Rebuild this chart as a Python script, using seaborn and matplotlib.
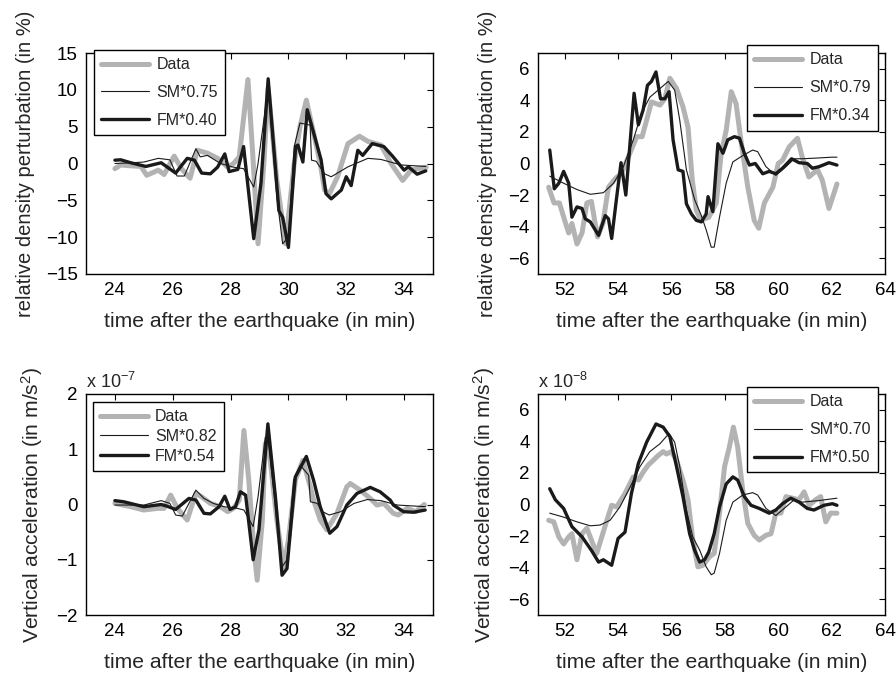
import numpy as np
import pandas as pd
import matplotlib
matplotlib.use("Agg")
import matplotlib.pyplot as plt
import seaborn as sns

# ---------------- data ----------------
# Top-left: relative density perturbation (%), 24-35 min
tl_data_t = [24.0, 24.2, 24.5, 24.9, 25.1, 25.5, 25.7, 26.05, 26.3, 26.6, 26.85, 27.2, 27.55, 27.9, 28.1, 28.3,
             28.6, 28.75, 28.95, 29.15, 29.3, 29.6, 29.9, 30.2, 30.4, 30.62, 30.85, 31.1, 31.25, 31.42, 31.7,
             32.06, 32.46, 32.75, 33.2, 33.55, 33.95, 34.24, 34.47, 34.76]
tl_data_v = [-0.7, -0.2, -0.3, -0.4, -1.6, -0.9, -1.5, 1.0, -0.7, -2.0, 1.8, 1.4, 0.7, -0.5, 0.0, 0.9,
             11.4, 2.3, -10.9, 0.0, 10.2, -2.3, -10.9, 0.0, 5.0, 8.6, 4.5, 0.0, -3.6, -4.1, -1.8,
             2.7, 3.7, 3.0, 2.5, 0.0, -2.3, -0.9, -0.7, -0.5]
tl_sm_t = [24.0, 24.6, 25.0, 25.5, 25.9, 26.15, 26.4, 26.8, 26.95, 27.2, 27.65, 28.1, 28.45, 28.8, 28.95,
           29.15, 29.3, 29.6, 29.8, 30.0, 30.2, 30.4, 30.75, 30.8, 30.96, 31.25, 31.48, 32.06, 32.75, 33.2,
           33.9, 34.75]
tl_sm_v = [0.0, 0.1, 0.2, 0.7, 0.5, -1.7, -1.7, 2.0, 0.9, 1.1, 0.0, -0.5, -0.7, -3.2, 0.0,
           5.9, 10.5, -4.5, -10.9, -10.0, 2.3, 5.5, 5.2, 0.45, 0.3, -1.4, -1.8, -0.45, 0.7, 0.55,
           -0.2, -0.4]
tl_fm_t = [24.0, 24.2, 24.55, 25.07, 25.6, 26.1, 26.5, 26.75, 27.0, 27.3, 27.55, 27.8, 27.95, 28.25, 28.45,
           28.8, 29.05, 29.3, 29.67, 29.8, 30.0, 30.25, 30.33, 30.5, 30.65, 31.13, 31.3, 31.48, 31.83, 32.0,
           32.17, 32.4, 32.57, 32.9, 33.3, 33.6, 34.0, 34.15, 34.45, 34.75]
tl_fm_v = [0.45, 0.5, 0.1, -0.4, 0.1, -1.3, 0.7, 0.45, -1.3, -1.4, -0.5, 1.3, -1.1, -0.8, 2.3,
           -10.2, -2.7, 11.5, -6.4, -7.3, -11.4, 2.3, 2.5, 0.2, 7.3, 0.5, -4.1, -4.8, -3.6, -1.8,
           -3.0, 1.8, 1.1, 2.7, 2.3, 1.0, -0.9, -0.45, -1.45, -1.0]

# Top-right: relative density perturbation (%), 51-64 min
tr_data_t = [51.4, 51.6, 51.8, 52.0, 52.15, 52.27, 52.46, 52.65, 52.83, 53.0, 53.23, 53.43, 53.64, 53.9, 54.14,
             54.38, 54.7, 54.9, 55.07, 55.25, 55.57, 55.75, 55.94, 56.19, 56.43, 56.62, 56.78, 56.93, 57.1,
             57.4, 57.68, 57.86, 58.05, 58.24, 58.42, 58.6, 58.86, 59.1, 59.27, 59.48, 59.8, 60.0, 60.16,
             60.41, 60.72, 60.9, 61.15, 61.47, 61.65, 61.9, 62.2]
tr_data_v = [-1.5, -2.5, -2.5, -3.6, -4.4, -3.8, -5.1, -4.4, -2.5, -2.4, -4.65, -3.8, -1.5, -0.95, -0.6,
             0.4, 1.7, 1.7, 2.75, 3.9, 3.7, 4.1, 5.4, 4.75, 3.6, 2.3, -1.05, -2.95, -3.6,
             -3.4, -2.5, 0.6, 2.1, 4.55, 3.8, 1.5, -1.5, -3.6, -4.1, -2.5, -1.5, 0.0, 0.2,
             1.05, 1.6, 0.4, -0.85, -0.4, -1.05, -2.85, -1.3]
tr_sm_t = [51.44, 51.96, 52.46, 52.96, 53.45, 53.83, 54.2, 54.57, 54.88, 55.19, 55.57, 55.88, 56.12, 56.31,
           56.56, 56.87, 57.12, 57.3, 57.49, 57.6, 57.8, 58.05, 58.3, 58.67, 59.04, 59.23, 59.54, 59.91,
           60.29, 60.6, 60.9, 61.5, 62.0, 62.2]
tr_sm_v = [-0.8, -1.25, -1.65, -1.95, -1.85, -1.25, -0.2, 1.5, 3.2, 4.2, 4.75, 5.2, 4.65, 2.75,
           -0.4, -2.3, -3.3, -4.2, -5.3, -5.3, -3.4, -1.25, 0.1, 0.5, 0.85, 0.75, -0.2, -0.75,
           -0.2, 0.3, 0.3, 0.35, 0.4, 0.4]
tr_fm_t = [51.44, 51.61, 51.78, 51.96, 52.15, 52.27, 52.46, 52.65, 52.77, 52.96, 53.27, 53.52, 53.64, 53.76,
           53.95, 54.11, 54.29, 54.6, 54.76, 54.94, 55.1, 55.25, 55.42, 55.59, 55.75, 55.91, 56.06, 56.25,
           56.43, 56.56, 56.75, 56.93, 57.12, 57.3, 57.37, 57.55, 57.74, 57.93, 58.11, 58.36, 58.55, 58.73,
           58.92, 59.14, 59.42, 59.66, 59.91, 60.16, 60.5, 60.78, 61.09, 61.28, 61.53, 61.9, 62.2]
tr_fm_v = [0.85, -1.6, -1.25, -0.5, -1.25, -3.4, -2.75, -2.85, -3.5, -3.7, -4.55, -3.3, -3.5, -4.75,
           -2.1, 0.05, -2.0, 4.45, 2.45, 3.4, 4.95, 5.2, 5.8, 4.1, 4.1, 4.55, 1.5, -0.4,
           -0.5, -2.55, -3.2, -3.6, -3.7, -3.2, -2.1, -3.05, 1.25, 0.65, 1.5, 1.7, 1.6, 0.65,
           -0.1, 0.0, -0.65, -0.5, -0.65, -0.3, 0.3, 0.05, 0.0, -0.3, -0.2, 0.05, -0.1]

# Bottom-left: vertical acceleration (x 1e-7 m/s^2), 24-35 min
bl_data_t = [24.0, 24.55, 25.0, 25.47, 25.7, 25.93, 26.16, 26.5, 26.8, 27.0, 27.3, 27.65, 27.9, 28.1, 28.3,
             28.46, 28.63, 28.8, 28.92, 29.1, 29.2, 29.32, 29.6, 29.84, 30.0, 30.24, 30.5, 30.76, 30.87,
             31.1, 31.33, 31.68, 32.02, 32.14, 32.48, 32.83, 33.06, 33.3, 33.63, 33.8, 34.1, 34.4, 34.7]
bl_data_v = [0.02, -0.04, -0.1, -0.07, -0.07, 0.17, -0.07, -0.28, 0.2, 0.14, 0.02, -0.04, -0.13, -0.07, 0.08,
             1.34, 0.44, -0.77, -1.37, -0.28, 1.1, 1.04, -0.28, -1.13, -0.64, 0.44, 0.8, 0.32, 0.08,
             -0.28, -0.46, -0.16, 0.32, 0.38, 0.26, 0.11, -0.01, 0.02, -0.16, -0.19, -0.07, -0.13, 0.0]
bl_sm_t = [24.0, 25.0, 25.6, 25.9, 26.1, 26.33, 26.8, 27.08, 27.4, 27.77, 28.23, 28.46, 28.78, 28.95,
           29.2, 29.3, 29.6, 29.78, 29.95, 30.18, 30.41, 30.7, 30.76, 31.0, 31.18, 31.41, 31.81, 32.27,
           32.73, 33.2, 33.77, 34.75]
bl_sm_v = [-0.01, -0.01, 0.07, 0.02, -0.19, -0.21, 0.26, 0.11, 0.02, -0.04, -0.07, -0.1, -0.4, 0.14,
           1.22, 1.16, -0.28, -1.13, -1.0, 0.44, 0.71, 0.53, 0.05, 0.02, -0.13, -0.19, -0.13, 0.02,
           0.09, 0.07, -0.01, -0.04]
bl_fm_t = [24.0, 24.3, 25.0, 25.6, 25.8, 26.1, 26.56, 26.8, 27.08, 27.3, 27.6, 27.8, 27.98, 28.17, 28.34,
           28.52, 28.78, 28.98, 29.29, 29.55, 29.78, 29.95, 30.24, 30.62, 30.87, 31.1, 31.43, 31.68, 32.02,
           32.37, 32.83, 33.17, 33.52, 33.63, 33.98, 34.33, 34.73]
bl_fm_v = [0.07, 0.05, -0.04, 0.0, -0.03, -0.09, 0.11, 0.08, -0.16, -0.17, -0.04, 0.15, -0.09, -0.04, 0.23,
           0.17, -1.0, -0.46, 1.46, 0.14, -1.28, -1.16, 0.5, 0.87, 0.44, -0.04, -0.52, -0.4, -0.01,
           0.2, 0.31, 0.23, 0.08, -0.01, -0.13, -0.14, -0.1]

# Bottom-right: vertical acceleration (x 1e-8 m/s^2), 51-64 min
br_data_t = [51.4, 51.59, 51.78, 51.96, 52.15, 52.27, 52.46, 52.65, 52.83, 53.0, 53.2, 53.39, 53.58, 53.76,
             53.95, 54.26, 54.57, 54.76, 54.94, 55.13, 55.32, 55.5, 55.69, 55.81, 56.0, 56.19, 56.43, 56.62,
             56.8, 56.99, 57.18, 57.43, 57.6, 57.8, 57.99, 58.17, 58.32, 58.48, 58.67, 58.86, 59.1, 59.29,
             59.54, 59.73, 59.91, 60.1, 60.29, 60.53, 60.78, 60.97, 61.16, 61.4, 61.59, 61.78, 61.96, 62.2]
br_data_v = [-1.0, -1.1, -2.05, -2.5, -2.05, -1.85, -3.5, -1.85, -1.5, -2.25, -3.1, -2.05, -1.0, -0.05,
             -0.15, 0.7, 1.75, 1.55, 2.05, 2.5, 2.8, 3.1, 3.35, 3.2, 3.35, 2.8, 1.55, 0.3,
             -2.25, -3.95, -3.85, -3.3, -3.1, -0.55, 2.4, 3.65, 4.9, 3.65, 0.9, -1.2, -1.95, -2.25,
             -1.95, -1.85, -0.55, -0.55, 0.5, 0.4, 0.3, 0.8, -0.05, 0.3, 0.5, -1.1, -0.55, -0.55]
br_sm_t = [51.44, 51.96, 52.46, 52.96, 53.33, 53.7, 54.07, 54.45, 54.82, 55.19, 55.57, 55.91, 56.12, 56.31,
           56.56, 56.8, 57.06, 57.3, 57.49, 57.6, 57.8, 58.05, 58.3, 58.67, 59.04, 59.23, 59.54, 59.91,
           60.29, 60.6, 60.9, 61.53, 62.2]
br_sm_v = [-0.55, -0.8, -1.1, -1.35, -1.3, -1.0, -0.15, 1.1, 2.4, 3.35, 3.85, 4.5, 3.95, 2.4,
           -0.35, -2.05, -2.9, -3.95, -4.45, -4.35, -3.1, -1.0, 0.15, 0.6, 0.75, 0.6, -0.25, -0.7,
           -0.15, 0.3, 0.15, 0.25, 0.4]
br_fm_t = [51.44, 51.65, 51.96, 52.27, 52.65, 53.0, 53.27, 53.45, 53.76, 54.0, 54.26, 54.5, 54.76, 55.07,
           55.42, 55.69, 55.94, 56.19, 56.43, 56.68, 56.87, 57.06, 57.24, 57.4, 57.6, 57.8, 58.05, 58.3,
           58.48, 58.73, 58.98, 59.29, 59.66, 59.91, 60.16, 60.47, 60.78, 61.09, 61.34, 61.71, 62.03, 62.2]
br_fm_v = [1.0, 0.3, -0.25, -1.4, -2.05, -2.9, -3.65, -3.5, -3.85, -2.15, -1.75, 0.7, 2.6, 3.95,
           5.1, 4.9, 4.3, 2.4, 0.5, -1.85, -2.9, -3.65, -3.5, -3.0, -1.85, -0.15, 1.3, 1.75,
           1.55, 0.5, -0.05, -0.25, -0.55, -0.35, 0.05, 0.4, 0.15, -0.25, -0.35, -0.05, 0.05, -0.05]

labels_tl = ["Data", "SM*0.75", "FM*0.40"]
labels_tr = ["Data", "SM*0.79", "FM*0.34"]
labels_bl = ["Data", "SM*0.82", "FM*0.54"]
labels_br = ["Data", "SM*0.70", "FM*0.50"]

xticks_left = [24, 26, 28, 30, 32, 34]
xticks_right = [52, 54, 56, 58, 60, 62, 64]
yticks_tl = [-15, -10, -5, 0, 5, 10, 15]
yticks_tr = [-6, -4, -2, 0, 2, 4, 6]
yticks_bl = [-2, -1, 0, 1, 2]
yticks_br = [-6, -4, -2, 0, 2, 4, 6]

xlabel = "time after the earthquake (in min)"
ylabel_top = "relative density perturbation (in %)"
ylabel_bot = "Vertical acceleration (in m/s$^2$)"

# ---------------- style ----------------
sns.set_style("white")
plt.rcParams["font.family"] = ["Liberation Sans", "DejaVu Sans"]
plt.rcParams["mathtext.fontset"] = "custom"
plt.rcParams["mathtext.rm"] = "Liberation Sans"
plt.rcParams["mathtext.it"] = "Liberation Sans"

GRAY = "#b3b3b3"
BLACK = "#1a1a1a"

fig = plt.figure(figsize=(8.96, 6.77), dpi=100)
W, H = 896, 677


def make_ax(x0, x1, y0, y1):
    return fig.add_axes([x0 / W, 1 - y1 / H, (x1 - x0) / W, (y1 - y0) / H])


ax_tl = make_ax(86, 433, 53, 274)
ax_tr = make_ax(538, 885, 53, 274)
ax_bl = make_ax(86, 433, 394, 615)
ax_br = make_ax(538, 885, 394, 615)

panels = [
    (ax_tl, tl_data_t, tl_data_v, tl_sm_t, tl_sm_v, tl_fm_t, tl_fm_v, labels_tl,
     (23, 35), (-15, 15), xticks_left, yticks_tl, ylabel_top, 14.5, None,
     dict(loc="upper left", bbox_to_anchor=(0.023, 1.014), labelspacing=0.8)),
    (ax_tr, tr_data_t, tr_data_v, tr_sm_t, tr_sm_v, tr_fm_t, tr_fm_v, labels_tr,
     (51, 64), (-7, 7), xticks_right, yticks_tr, ylabel_top, 14.5, None,
     dict(loc="upper right", bbox_to_anchor=(0.98, 1.036), labelspacing=0.82)),
    (ax_bl, bl_data_t, bl_data_v, bl_sm_t, bl_sm_v, bl_fm_t, bl_fm_v, labels_bl,
     (23, 35), (-2, 2), xticks_left, yticks_bl, ylabel_bot, 15.2, -7,
     dict(loc="upper left", bbox_to_anchor=(0.02, 0.964), labelspacing=0.3)),
    (ax_br, br_data_t, br_data_v, br_sm_t, br_sm_v, br_fm_t, br_fm_v, labels_br,
     (51, 64), (-7, 7), xticks_right, yticks_br, ylabel_bot, 15.2, -8,
     dict(loc="upper right", bbox_to_anchor=(0.98, 1.032), labelspacing=0.82)),
]

for (ax, dt, dv, st, sv, ft, fv, labs, xl, yl, xt, yt, ylab, yfs, expo, legkw) in panels:
    sns.lineplot(x=dt, y=dv, ax=ax, color=GRAY, linewidth=3.6, label=labs[0], sort=False)
    sns.lineplot(x=st, y=sv, ax=ax, color=BLACK, linewidth=0.8, label=labs[1], sort=False)
    sns.lineplot(x=ft, y=fv, ax=ax, color=BLACK, linewidth=2.4, label=labs[2], sort=False)
    ax.set_xlim(*xl)
    ax.set_ylim(*yl)
    ax.set_xticks(xt)
    ax.set_yticks(yt)
    ax.tick_params(direction="in", top=True, right=True, length=4, width=0.8,
                   labelsize=13.5, colors="black", pad=6)
    for sp in ax.spines.values():
        sp.set_visible(True)
        sp.set_color("black")
        sp.set_linewidth(1.0)
    ax.set_xlabel(xlabel, fontsize=15.2, labelpad=9)
    ax.set_ylabel(ylab, fontsize=yfs, labelpad=8)
    if expo is not None:
        ax.text(0.0, 1.01, "x 10$^{%d}$" % expo, transform=ax.transAxes,
                ha="left", va="bottom", fontsize=13)
    leg = ax.legend(borderaxespad=0, fancybox=False, framealpha=1, edgecolor="black",
                    fontsize=11.5, handlelength=3.0, handletextpad=0.45, borderpad=0.45,
                    **legkw)
    leg.get_frame().set_linewidth(1.0)
    leg.set_zorder(5)

fig.savefig("out.png", dpi=100)
